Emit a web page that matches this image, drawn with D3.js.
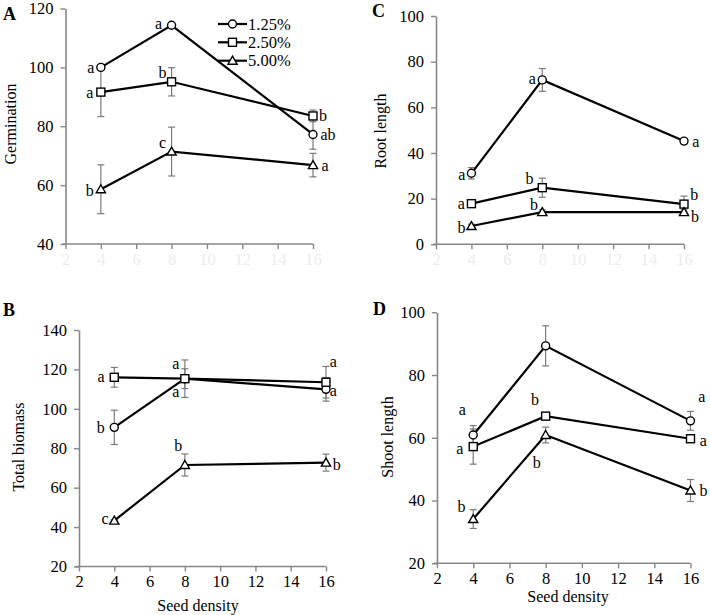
<!DOCTYPE html>
<html><head><meta charset="utf-8">
<script src="https://cdn.jsdelivr.net/npm/d3@7"></script>
<style>
body{margin:0;background:#fff}
svg{display:block}
svg text{font-family:"Liberation Serif","Times New Roman",serif !important}
</style>
</head><body><svg id="c" width="710" height="615" font-family="Liberation Serif"></svg>
<script>
// ---------- data ----------
const densities = [4, 8, 16];
const xTicks = [2, 4, 6, 8, 10, 12, 14, 16];
const seriesNames = ["1.25%", "2.50%", "5.00%"];

const germinationMean = [[100, 114.3, 77.2], [91.6, 95.1, 83.5], [58.6, 71.4, 66.8]];
const germinationErr = [[0.5, 0.5, 5], [8.3, 4.8, 2], [8.3, 8.3, 4]];
const germinationLetters = [["a", "a", "ab"], ["a", "b", "b"], ["b", "c", "a"]];

const rootMean = [[31.1, 72, 45.2], [17.8, 24.8, 17.6], [8, 14.1, 14.1]];
const rootErr = [[2.5, 5, 1], [1, 4.2, 3.5], [0.8, 1, 1]];
const rootLetters = [["a", "a", "a"], ["a", "b", "b"], ["b", "b", "b"]];

const biomassMean = [[90.6, 115.3, 109.9], [116, 115.3, 113.5], [43.3, 71.5, 72.7]];
const biomassErr = [[8.7, 5, 6], [5, 9.5, 8], [0.5, 5.6, 4.3]];
const biomassLetters = [["b", "a", "a"], ["a", "a", "a"], ["c", "b", "b"]];

const shootMean = [[60.9, 89.3, 65.4], [57.2, 66.9, 59.7], [34.1, 60.9, 43.2]];
const shootErr = [[3, 6.4, 3], [5.6, 0.8, 0.8], [3, 2.5, 3.5]];
const shootLetters = [["a", "", "a"], ["a", "b", "a"], ["b", "b", "b"]];

const germinationTicks = [40, 60, 80, 100, 120];
const rootTicks = [0, 20, 40, 60, 80, 100];
const biomassTicks = [20, 40, 60, 80, 100, 120, 140];
const shootTicks = [20, 40, 60, 80, 100];

// ---------- layout (positions / styles) ----------
const panels = [
  {letter: "A", title: "Germination", mean: germinationMean, err: germinationErr, letters: germinationLetters,
   ticks: germinationTicks, xr: [65.5, 313], yr: [244, 8.5], xTickColor: "#ececec", xTitle: null,
   letterPos: [3, 20], titlePos: [10, 124], legend: true,
   off: [[[-10, 0], [-13, -2], [15, 0]], [[-11, 0], [-9, -9], [10, -1]], [[-11, 1], [-9, -9], [12, 0]]]},
  {letter: "C", title: "Root length", mean: rootMean, err: rootErr, letters: rootLetters,
   ticks: rootTicks, xr: [436, 684], yr: [244.3, 16], xTickColor: "#ececec", xTitle: null,
   letterPos: [372, 17], titlePos: [380, 131],
   off: [[[-9.5, 0.7], [-10, -2], [11.7, 0]], [[-10, 0], [-12.7, -9.4], [10.3, -10]], [[-10, 1.7], [-8.4, -8], [11, 4]]]},
  {letter: "B", title: "Total biomass", mean: biomassMean, err: biomassErr, letters: biomassLetters,
   ticks: biomassTicks, xr: [79, 326], yr: [566.5, 330], xTickColor: "#000", xTitle: [198, 605],
   letterPos: [3, 316], titlePos: [18, 447],
   off: [[[-13.6, 0.3], [-9, 13], [7.3, 0.6]], [[-13.3, -0.6], [-9, -15.4], [7.3, -21.3]], [[-9.3, -2.4], [-6.7, -19.4], [10.7, 1.6]]]},
  {letter: "D", title: "Shoot length", mean: shootMean, err: shootErr, letters: shootLetters,
   ticks: shootTicks, xr: [437, 690.5], yr: [563.3, 312.3], xTickColor: "#000", xTitle: [568, 596],
   letterPos: [373, 315], titlePos: [387, 437],
   off: [[[-11, -25.7], [0, 0], [11.3, -24.9]], [[-13.3, 1.7], [-10.7, -16.9], [12.9, 1.3]], [[-11.6, -13], [-9, 27.3], [12.9, -0.5]]]}
];

const axisColor = "#878787";
const serif = '"Liberation Serif","Times New Roman",serif';
const svg = d3.select("#c");

function drawMarker(g, i, x, y) {
  let m;
  if (i === 0) m = g.append("circle").attr("cx", x).attr("cy", y).attr("r", 4);
  else if (i === 1) m = g.append("rect").attr("x", x - 4).attr("y", y - 4).attr("width", 8).attr("height", 8);
  else m = g.append("path").attr("d", `M${x},${y - 4.5}L${x + 4.6},${y + 3.5}L${x - 4.6},${y + 3.5}Z`);
  m.attr("fill", "#fff").attr("stroke", "#000").attr("stroke-width", 1.4);
}

panels.forEach(p => {
  const x = d3.scaleLinear().domain([2, 16]).range(p.xr);
  const y = d3.scaleLinear().domain(d3.extent(p.ticks)).range(p.yr);
  const g = svg.append("g");

  // x axis
  const xa = g.append("g").attr("transform", `translate(0,${p.yr[0]})`)
    .call(d3.axisBottom(x).tickValues(xTicks).tickSize(5).tickSizeOuter(0).tickPadding(4))
    .attr("font-family", serif);
  xa.select(".domain").attr("stroke", axisColor).attr("stroke-width", 1.6).attr("d", `M${p.xr[0] - 3},0H${p.xr[1]}`);
  xa.selectAll(".tick line").attr("stroke", axisColor).attr("stroke-width", 1.4);
  xa.selectAll(".tick text").style("font-family", serif).style("font-size", "16.5px").style("fill", p.xTickColor);

  // y axis
  const ya = g.append("g").attr("transform", `translate(${p.xr[0]},0)`)
    .call(d3.axisLeft(y).tickValues(p.ticks).tickSize(5).tickSizeOuter(0).tickPadding(7))
    .attr("font-family", serif);
  ya.select(".domain").attr("stroke", axisColor).attr("stroke-width", 1.6);
  ya.selectAll(".tick line").attr("stroke", axisColor).attr("stroke-width", 1.4);
  ya.selectAll(".tick text").style("font-family", serif).style("font-size", "16.5px").style("fill", "#000");

  // titles
  g.append("text").attr("transform", `translate(${p.titlePos[0]},${p.titlePos[1]}) rotate(-90)`)
    .attr("text-anchor", "middle").attr("dy", "0.35em").style("font-size", "16px").text(p.title);
  if (p.xTitle) g.append("text").attr("x", p.xTitle[0]).attr("y", p.xTitle[1]).attr("text-anchor", "middle")
    .attr("dy", "0.35em").style("font-size", "16px").text("Seed density");
  g.append("text").attr("x", p.letterPos[0]).attr("y", p.letterPos[1]).style("font-size", "18px")
    .style("font-weight", "bold").text(p.letter);

  // error bars
  p.mean.forEach((s, i) => s.forEach((v, j) => {
    const e = p.err[i][j], cx = x(densities[j]);
    const eb = g.append("g").attr("stroke", "#7a7a7a").attr("stroke-width", 1.2);
    eb.append("line").attr("x1", cx).attr("x2", cx).attr("y1", y(v - e)).attr("y2", y(v + e));
    eb.append("line").attr("x1", cx - 3.5).attr("x2", cx + 3.5).attr("y1", y(v - e)).attr("y2", y(v - e));
    eb.append("line").attr("x1", cx - 3.5).attr("x2", cx + 3.5).attr("y1", y(v + e)).attr("y2", y(v + e));
  }));

  // lines
  const line = d3.line().x((d, j) => x(densities[j])).y(d => y(d));
  p.mean.forEach(s => g.append("path").attr("d", line(s)).attr("fill", "none")
    .attr("stroke", "#000").attr("stroke-width", 2.2));

  // markers + letters
  p.mean.forEach((s, i) => s.forEach((v, j) => {
    drawMarker(g, i, x(densities[j]), y(v));
    const lt = p.letters[i][j];
    if (lt) g.append("text").attr("x", x(densities[j]) + p.off[i][j][0]).attr("y", y(v) + p.off[i][j][1])
      .attr("text-anchor", "middle").attr("dy", "0.35em").style("font-size", "16px").text(lt);
  }));

  // legend
  if (p.legend) {
    const ly = [24, 42.3, 60.7];
    seriesNames.forEach((n, i) => {
      g.append("line").attr("x1", 218).attr("x2", 247).attr("y1", ly[i]).attr("y2", ly[i])
        .attr("stroke", "#000").attr("stroke-width", 2.2);
      drawMarker(g, i, 232.5, ly[i]);
      g.append("text").attr("x", 248).attr("y", ly[i]).attr("dy", "0.35em").style("font-size", "16.5px").text(n);
    });
  }
});
</script>
</body></html>
